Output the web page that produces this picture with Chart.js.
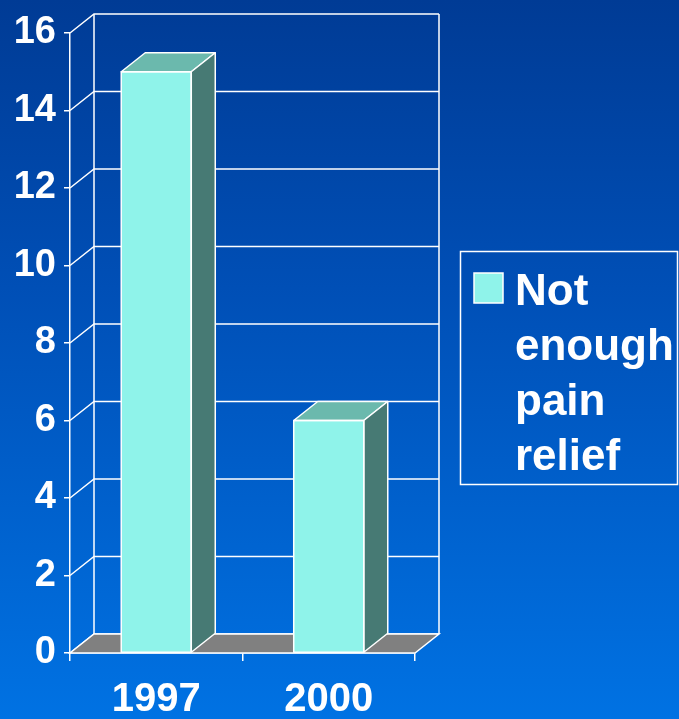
<!DOCTYPE html>
<html lang="en">
<head>
<meta charset="UTF-8">
<title>Not enough pain relief</title>
<script src="https://cdn.jsdelivr.net/npm/chart.js"></script>
<style>
  html, body { margin: 0; padding: 0; }
  body { width: 679px; height: 719px; overflow: hidden;
         background: linear-gradient(to bottom, #003b95 0%, #004fb6 40%, #0072e3 100%); }
  canvas { display: block; }
</style>
</head>
<body>
<canvas id="chart" width="679" height="719"></canvas>
<script>
// data
const years = ['1997', '2000'];
const notEnoughRelief = [15, 6];
const seriesName = 'Not enough pain relief';
const legendLines = ['Not', 'enough', 'pain', 'relief'];

const FONT = "'Liberation Sans', Arial, sans-serif";
const DX = 24, DY = 19;          // depth offset of the 3D box
const FRONT = '#8ff3ea', TOP = '#6bb9ad', SIDE = '#477a74', FLOOR = '#808080';

// back wall, side wall and floor
const walls = {
  id: 'walls',
  beforeDatasetsDraw(chart) {
    const { ctx, chartArea: a, scales: { y } } = chart;
    ctx.save();
    ctx.strokeStyle = '#fff';
    ctx.lineWidth = 1.5;
    y.ticks.forEach(t => {
      const py = y.getPixelForValue(t.value);
      ctx.beginPath();
      ctx.moveTo(a.left, py);
      ctx.lineTo(a.left + DX, py - DY);
      ctx.lineTo(a.right + DX, py - DY);
      ctx.stroke();
    });
    ctx.beginPath();
    ctx.moveTo(a.left + DX, a.bottom - DY);
    ctx.lineTo(a.left + DX, a.top - DY);
    ctx.moveTo(a.right + DX, a.bottom - DY);
    ctx.lineTo(a.right + DX, a.top - DY);
    ctx.stroke();
    // floor
    ctx.beginPath();
    ctx.moveTo(a.left, a.bottom);
    ctx.lineTo(a.right, a.bottom);
    ctx.lineTo(a.right + DX, a.bottom - DY);
    ctx.lineTo(a.left + DX, a.bottom - DY);
    ctx.closePath();
    ctx.fillStyle = FLOOR;
    ctx.fill();
    ctx.stroke();
    ctx.restore();
  }
};

// top and side faces of each column
const boxes = {
  id: 'boxes',
  afterDatasetsDraw(chart) {
    const { ctx } = chart;
    ctx.save();
    ctx.strokeStyle = '#fff';
    ctx.lineWidth = 1.5;
    ctx.lineJoin = 'round';
    chart.getDatasetMeta(0).data.forEach(bar => {
      const l = bar.x - bar.width / 2, r = bar.x + bar.width / 2;
      const t = bar.y, b = bar.base;
      ctx.beginPath();
      ctx.moveTo(l, t); ctx.lineTo(l + DX, t - DY); ctx.lineTo(r + DX, t - DY); ctx.lineTo(r, t);
      ctx.closePath();
      ctx.fillStyle = TOP; ctx.fill(); ctx.stroke();
      ctx.beginPath();
      ctx.moveTo(r, t); ctx.lineTo(r + DX, t - DY); ctx.lineTo(r + DX, b - DY); ctx.lineTo(r, b);
      ctx.closePath();
      ctx.fillStyle = SIDE; ctx.fill(); ctx.stroke();
      ctx.strokeRect(l, t, r - l, b - t);
    });
    ctx.restore();
  }
};

// boxed legend on the right
const sideLegend = {
  id: 'sideLegend',
  afterDraw(chart) {
    const { ctx } = chart;
    ctx.save();
    ctx.strokeStyle = '#fff';
    ctx.lineWidth = 1.5;
    ctx.strokeRect(460.5, 251.5, 217, 233);
    ctx.fillStyle = FRONT;
    ctx.fillRect(474, 273, 29, 30);
    ctx.strokeRect(474, 273, 29, 30);
    ctx.fillStyle = '#fff';
    ctx.font = 'bold 44px ' + FONT;
    ctx.textBaseline = 'alphabetic';
    legendLines.forEach((s, i) => ctx.fillText(s, 515, 305 + i * 55));
    ctx.restore();
  }
};

new Chart(document.getElementById('chart'), {
  type: 'bar',
  data: {
    labels: years,
    datasets: [{
      label: seriesName,
      data: notEnoughRelief,
      backgroundColor: FRONT,
      borderWidth: 0,
      categoryPercentage: 1,
      barPercentage: 0.406
    }]
  },
  options: {
    responsive: false,
    devicePixelRatio: 1,
    animation: false,
    layout: { padding: { top: 33, right: 264, left: 0, bottom: 0 } },
    plugins: { legend: { display: false }, tooltip: { enabled: false } },
    scales: {
      x: {
        grid: { offset: true, drawOnChartArea: false, color: '#fff', lineWidth: 1.5, tickLength: 8 },
        border: { color: '#fff', width: 1.5 },
        ticks: { color: '#fff', font: { family: FONT, size: 40, weight: 'bold' }, padding: 15 },
        afterFit(s) { s.height = 66; }
      },
      y: {
        min: 0, max: 16,
        grid: { drawOnChartArea: false, color: '#fff', lineWidth: 1.5, tickLength: 6 },
        border: { color: '#fff', width: 1.5 },
        ticks: { stepSize: 2, color: '#fff', font: { family: FONT, size: 38, weight: 'bold' }, padding: 8 },
        afterFit(s) { s.width = 70; }
      }
    }
  },
  plugins: [walls, boxes, sideLegend]
});
</script>
</body>
</html>
